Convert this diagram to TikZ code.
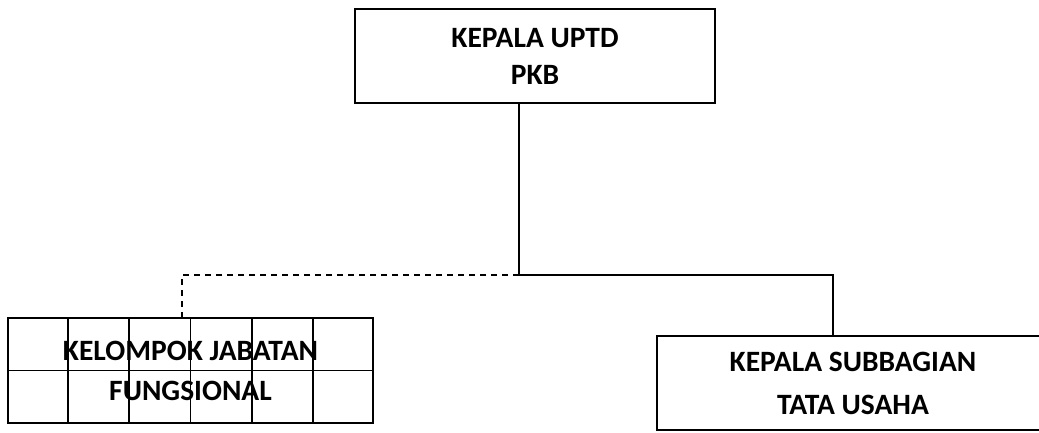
\documentclass[tikz,border=0pt]{standalone}
\usepackage{fontspec}
\setmainfont{Carlito}
\usetikzlibrary{positioning, calc}

\tikzset{
  unitbox/.style={draw, line width=1.8pt, align=center, inner sep=0pt,
    font=\bfseries\fontsize{29.5}{35}\selectfont},
  link/.style={line width=1.8pt},
  dottedlink/.style={line width=1.8pt, dash pattern=on 6pt off 5pt}
}

\begin{document}
\begin{tikzpicture}[x=1pt, y=-1pt]
    % Page frame
    \clip (0,0) rectangle (1039,432);

    % Draw the units
    \node[unitbox, minimum width=360pt, minimum height=94pt] (kepala) at (535,56) {KEPALA UPTD\\[2pt]PKB};
    \node[unitbox, minimum width=365pt, minimum height=105pt] (fungsional) at (190.5,370.5) {KELOMPOK JABATAN\\[5pt]FUNGSIONAL};
    \node[unitbox, minimum width=392pt, minimum height=94pt] (tatausaha) at (853,383) {KEPALA SUBBAGIAN\\[8pt]TATA USAHA};

    % Grid inside the functional group box
    \foreach \i in {1,...,5}
        \draw[link] ($(fungsional.north west)!\i/6!(fungsional.north east)$) -- ($(fungsional.south west)!\i/6!(fungsional.south east)$);
    \draw[link] (fungsional.west) -- (fungsional.east);

    % Connectors
    \coordinate (split) at (519,275);
    \draw[link] (kepala.south -| split) -- (split) -| ([xshift=-20pt]tatausaha.north);
    \draw[dottedlink] (split) -| ([xshift=-8.5pt]fungsional.north);
\end{tikzpicture}
\end{document}
